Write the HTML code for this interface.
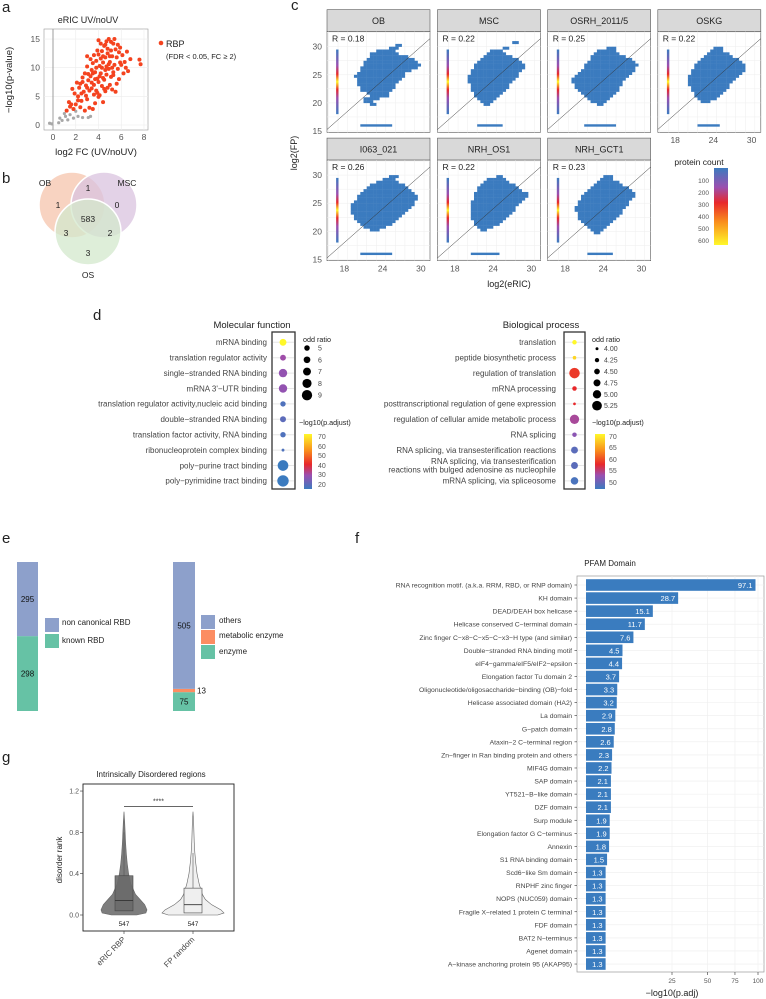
<!DOCTYPE html>
<html><head><meta charset="utf-8">
<style>
html,body{margin:0;padding:0;background:#fff;}
svg{display:block;font-family:"Liberation Sans",sans-serif;}
.t{fill:#222;}
.tk{fill:#555;}
</style></head>
<body>
<svg id="fig" width="766" height="999" viewBox="0 0 766 999" xmlns="http://www.w3.org/2000/svg">
<defs>
<linearGradient id="pc" x1="0" y1="0" x2="0" y2="1">
<stop offset="0" stop-color="#3b7bbf"/><stop offset="0.25" stop-color="#9b4fb0"/><stop offset="0.45" stop-color="#e8282b"/><stop offset="0.7" stop-color="#f98e1c"/><stop offset="1" stop-color="#fff82a"/></linearGradient>
<linearGradient id="pv" x1="0" y1="0" x2="0" y2="1">
<stop offset="0" stop-color="#fff82a"/><stop offset="0.3" stop-color="#f98e1c"/><stop offset="0.55" stop-color="#e8282b"/><stop offset="0.75" stop-color="#9b4fb0"/><stop offset="1" stop-color="#3b7bbf"/></linearGradient>
<linearGradient id="inb" x1="0" y1="0" x2="0" y2="1">
<stop offset="0" stop-color="#3b7bbf"/><stop offset="0.25" stop-color="#9b4fb0"/><stop offset="0.38" stop-color="#e8282b"/><stop offset="0.5" stop-color="#fff82a"/><stop offset="0.62" stop-color="#e8282b"/><stop offset="0.75" stop-color="#9b4fb0"/><stop offset="1" stop-color="#3b7bbf"/></linearGradient>
</defs>

<!-- panel labels -->
<text x="2" y="12" font-size="15" class="t">a</text>
<text x="2" y="183" font-size="15" class="t">b</text>
<text x="291" y="10" font-size="15" class="t">c</text>
<text x="93" y="320" font-size="15" class="t">d</text>
<text x="2" y="543" font-size="15" class="t">e</text>
<text x="355" y="543" font-size="15" class="t">f</text>
<text x="2" y="762" font-size="15" class="t">g</text>

<!-- panel a -->
<g id="pa">
<text x="88" y="23" font-size="9" text-anchor="middle" class="t">eRIC UV/noUV</text>
<rect x="44" y="29" width="104" height="101" fill="#fff" stroke="#999" stroke-width="0.6"/>
<g id="pa-grid"></g>
<g id="pa-pts"></g>
<text x="96" y="155" font-size="9.5" text-anchor="middle" class="t">log2 FC (UV/noUV)</text>
<text x="0" y="0" font-size="9.5" text-anchor="middle" class="t" transform="translate(12,80) rotate(-90)">−log10(p-value)</text>
<circle cx="161" cy="43" r="2.3" fill="#f4431f"/>
<text x="166" y="47" font-size="9" class="t">RBP</text>
<text x="166" y="59" font-size="7.5" class="t">(FDR &lt; 0.05, FC ≥ 2)</text>
</g>

<!-- panel b -->
<g>
<circle cx="72" cy="205" r="33" fill="#f7cbb6" fill-opacity="0.85" stroke="#fff" stroke-width="1.5"/>
<circle cx="104" cy="205" r="33" fill="#d9c3df" fill-opacity="0.75" stroke="#fff" stroke-width="1.5"/>
<circle cx="88" cy="232" r="33" fill="#d3e8cc" fill-opacity="0.75" stroke="#fff" stroke-width="1.5"/>
<g font-size="8.5" class="t" text-anchor="middle">
<text x="45" y="186">OB</text>
<text x="127" y="186">MSC</text>
<text x="88" y="278">OS</text>
<text x="58" y="208">1</text>
<text x="88" y="191">1</text>
<text x="117" y="208">0</text>
<text x="88" y="222">583</text>
<text x="66" y="236">3</text>
<text x="110" y="236">2</text>
<text x="88" y="256">3</text>
</g></g>

<!-- panel c -->
<g id="pc-g"></g>
<text x="0" y="0" font-size="9" text-anchor="middle" class="t" transform="translate(297,153) rotate(-90)">log2(FP)</text>
<text x="509" y="287" font-size="9" text-anchor="middle" class="t">log2(eRIC)</text>
<text x="699" y="165" font-size="8.5" text-anchor="middle" class="t">protein count</text>
<rect x="714" y="168" width="14" height="77" fill="url(#pc)"/>
<g font-size="6.5" class="tk" text-anchor="end">
<text x="709" y="183">100</text><text x="709" y="195">200</text><text x="709" y="207">300</text><text x="709" y="219">400</text><text x="709" y="231">500</text><text x="709" y="243">600</text></g>

<!-- panel d -->
<g id="pd">
<text x="252" y="328" font-size="9.5" text-anchor="middle" class="t">Molecular function</text>
<text x="541" y="328" font-size="9.5" text-anchor="middle" class="t">Biological process</text>
<rect x="272" y="332" width="23" height="157" fill="none" stroke="#333" stroke-width="1.3"/>
<rect x="564" y="332" width="21" height="157" fill="none" stroke="#333" stroke-width="1.3"/>
<text x="303" y="342" font-size="7.2" class="t">odd ratio</text>
<text x="592" y="342" font-size="7.2" class="t">odd ratio</text>
<text x="299" y="425" font-size="7.2" class="t">−log10(p.adjust)</text>
<text x="592" y="425" font-size="7.2" class="t">−log10(p.adjust)</text>
<rect x="304" y="434" width="8" height="55" fill="url(#pv)"/>
<rect x="595" y="434" width="10" height="55" fill="url(#pv)"/>
<g font-size="7" class="tk">
<text x="318" y="439">70</text><text x="318" y="449">60</text><text x="318" y="458">50</text><text x="318" y="468">40</text><text x="318" y="477">30</text><text x="318" y="487">20</text></g>
<g font-size="7" class="tk">
<text x="609" y="439">70</text><text x="609" y="450">65</text><text x="609" y="462">60</text><text x="609" y="473">55</text><text x="609" y="485">50</text></g>
</g>

<!-- panel e -->
<g id="pe">
<rect x="45" y="618" width="14" height="14" fill="#8da0cb"/>
<rect x="45" y="634" width="14" height="14" fill="#66c2a5"/>
<text x="62" y="625" font-size="8" class="t">non canonical RBD</text>
<text x="62" y="643" font-size="8" class="t">known RBD</text>
<rect x="201" y="615" width="14" height="14" fill="#8da0cb"/>
<rect x="201" y="630" width="14" height="14" fill="#fc8d62"/>
<rect x="201" y="645" width="14" height="14" fill="#66c2a5"/>
<text x="219" y="623" font-size="8" class="t">others</text>
<text x="219" y="638" font-size="8" class="t">metabolic enzyme</text>
<text x="219" y="654" font-size="8" class="t">enzyme</text>
</g>

<!-- panel f -->
<g id="pf">
<text x="610" y="566" font-size="8" text-anchor="middle" class="t">PFAM Domain</text>
<rect x="577" y="576" width="187" height="396" fill="#fff" stroke="#999" stroke-width="0.7"/>
<text x="672" y="996" font-size="9" text-anchor="middle" class="t">−log10(p.adj)</text>
</g>

<!-- panel g -->
<g id="pg">
<text x="151" y="777" font-size="8" text-anchor="middle" class="t">Intrinsically Disordered regions</text>
<rect x="83" y="784" width="151" height="147" fill="#fff" stroke="#222" stroke-width="0.9"/>
<text x="0" y="0" font-size="8" text-anchor="middle" class="t" transform="translate(62,860) rotate(-90)">disorder rank</text>
</g>

<script>
var NS='http://www.w3.org/2000/svg';
function mk(parent,tag,attrs,txt){var e=document.createElementNS(NS,tag);for(var k in attrs)e.setAttribute(k,attrs[k]);if(txt!==undefined)e.textContent=txt;parent.appendChild(e);return e;}
var fig=document.getElementById('fig');

// ---------- panel a data ----------
var volcanoGray=[[-0.3,0.3],[-0.1,0.2],[0.5,0.4],[0.8,0.8],[0.6,1.2],[1.1,1.5],[1.3,0.9],[1.5,1.8],[1.8,1.2],[2.2,1.5],[2.6,1.3],[3.1,1.3],[3.3,1.5],[2.0,2.4],[1.0,2.0]];
var volcanoRed=[[1.2,2.5],[1.5,3.2],[1.8,2.8],[1.4,4.0],[2.0,3.6],[2.2,5.0],[1.9,5.5],[2.5,4.2],[2.3,6.5],[2.7,5.8],[2.4,7.2],[2.9,6.9],[3.0,4.5],[3.2,3.0],[2.8,2.5],[3.5,2.8],[3.6,5.3],[3.1,7.8],[3.3,8.5],[2.8,9.0],[3.0,10.2],[3.4,9.6],[3.6,7.0],[3.8,6.0],[3.9,8.1],[3.7,9.2],[3.5,10.8],[3.3,11.5],[3.8,11.2],[4.0,12.3],[3.9,13.0],[4.1,10.3],[4.2,9.0],[4.0,7.5],[4.3,6.8],[4.1,5.2],[4.4,4.0],[4.6,5.9],[4.5,7.9],[4.7,8.8],[4.4,10.9],[4.6,11.8],[4.3,12.9],[4.5,13.8],[4.7,14.6],[4.9,15.0],[4.8,12.5],[5.0,11.0],[4.9,9.8],[5.1,8.4],[5.0,7.0],[5.2,6.2],[5.3,9.2],[5.4,10.5],[5.2,12.0],[5.5,13.2],[5.3,14.2],[5.6,11.8],[5.7,9.8],[5.8,8.0],[5.6,7.2],[6.0,10.5],[6.1,12.2],[5.9,13.5],[6.2,9.0],[6.3,11.0],[6.5,12.8],[6.8,11.5],[7.6,11.4],[7.7,10.6],[5.4,15.0],[5.1,14.5],[4.2,14.2],[3.6,12.2],[3.1,8.9],[2.6,8.3],[2.1,7.4],[1.7,6.3],[2.4,3.1],[3.7,3.8],[4.8,6.5],[5.5,5.8],[4.0,4.9],[3.4,6.4],[2.9,5.1],[4.6,9.6],[4.2,11.6],[3.8,10.0],[4.9,10.6],[5.3,8.7],[5.8,12.7],[6.4,10.0],[4.4,8.2],[3.2,6.0],[2.6,7.5],[3.9,5.6],[4.8,13.3],[5.0,12.0],[4.1,8.5],[3.5,9.0],[2.2,4.3],[1.6,3.6],[4.3,10.0],[4.7,10.2],[5.2,10.0],[3.0,6.5],[3.7,8.0],[4.5,6.3],[5.9,10.9],[6.6,9.4],[4.4,12.0],[3.4,7.4],[2.5,5.5],[5.1,13.0],[4.0,14.8],[4.6,14.0],[5.7,14.0],[3.0,12.0]];
var volcanoXTicks=[0,2,4,6,8];
var volcanoYTicks=[0,5,10,15];
function vx(v){return 53+v*11.375;}
function vy(v){return 125-v*5.73;}
(function(){
 var g=document.getElementById('pa-grid');
 volcanoXTicks.forEach(function(t){
  var l=mk(g,'line',{x1:vx(t),x2:vx(t),y1:29,y2:130,stroke:'#ececec','stroke-width':0.6});
  
  var tx=mk(g,'text',{x:vx(t),y:140,'font-size':8.5,'text-anchor':'middle',fill:'#555'},t);
  
 });
 volcanoYTicks.forEach(function(t){
  var l=mk(g,'line',{x1:44,x2:148,y1:vy(t),y2:vy(t),stroke:'#ececec','stroke-width':0.6});
  
  var tx=mk(g,'text',{x:40,y:vy(t)+3,'font-size':8.5,'text-anchor':'end',fill:'#555'},t);
  
 });
 var z=mk(g,'line',{x1:vx(0),x2:vx(0),y1:29,y2:130,stroke:'#888','stroke-width':0.8});
 
 var p=document.getElementById('pa-pts');
 volcanoGray.forEach(function(d){var c=mk(p,'circle',{cx:vx(d[0]),cy:vy(d[1]),r:1.6,fill:'#a8a8a8'});
  });
 volcanoRed.forEach(function(d){var c=mk(p,'circle',{cx:vx(d[0]),cy:vy(d[1]),r:2,fill:'#f4431f'});
  });
})();

// ---------- panel c data ----------
var facetNames=['OB','MSC','OSRH_2011/5','OSKG','I063_021','NRH_OS1','NRH_GCT1'];
var facetR=['0.18','0.22','0.25','0.22','0.26','0.22','0.23'];
var facetXTicks=[18,24,30];
var facetYTicks=[15,20,25,30];
var spansOB=[[19.5,22,22.5],[20,21,22],[20.5,21,23],[21,22,24.5],[21.5,21.5,24.5],[22,20.5,25],[22.5,20.5,25.5],[23,20,25.5],[23.5,20,26],[24,20,26.5],[24.5,19.5,27],[25,20,27],[25.5,20.5,28],[26,20.5,29],[26.5,21,29.5],[27,21,29],[27.5,21.5,28.5],[28,22,27.5],[28.5,22,26],[29,23,25.5],[29.5,25,26],[30,26,26.5]];
var spansMSC=[[19.5,22.5,23],[20,22,23.5],[20.5,21.5,24],[21,21,24.5],[21.5,21,25],[22,20.5,25.5],[22.5,20.5,26],[23,20.5,26],[23.5,20,26.5],[24,20,27],[24.5,20,27.5],[25,20.5,27.5],[25.5,20.5,28],[26,21,28.5],[26.5,21,28.5],[27,21.5,28],[27.5,22,27.5],[28,22.5,26.5],[28.5,23,25.5],[29,23.5,25],[29.5,25.5,26],[30.5,27,27.5]];
var spansOSRH=[[19.5,23,23.5],[20,22,24],[20.5,21.5,24.5],[21,21,25],[21.5,20.5,25.5],[22,20,26],[22.5,19.5,26],[23,19.5,26.5],[23.5,19,26.5],[24,19,27],[24.5,19.5,27.5],[25,20,28],[25.5,20.5,28.5],[26,21,28.5],[26.5,21,29],[27,21.5,28.5],[27.5,22,28],[28,22,27],[28.5,22.5,26],[29,23,25.5],[29.5,24.5,25.5]];
var spansOSKG=[[20,22,23],[20.5,21.5,24],[21,21,24.5],[21.5,21,25],[22,20.5,25.5],[22.5,20.5,26],[23,20,26],[23.5,20,26.5],[24,20,27],[24.5,20,27.5],[25,20.5,28],[25.5,20.5,28.5],[26,21,28.5],[26.5,21,28.5],[27,21.5,28],[27.5,22,27.5],[28,22.5,26.5],[28.5,23,26],[29,23.5,25],[29.5,24,25]];
var spansI063=[[20,22,23],[20.5,21,24],[21,20.5,25],[21.5,20,25.5],[22,19.5,26],[22.5,19.5,26.5],[23,19,27],[23.5,19,27.5],[24,19,28],[24.5,19,28.5],[25,19.5,28.5],[25.5,20,29],[26,20,29],[26.5,20.5,28.5],[27,21,28],[27.5,21.5,27.5],[28,22,27],[28.5,23,26],[29,24,25.5],[29.5,25,26]];
var spansNRHOS=[[20,22,22.5],[20.5,21.5,23.5],[21,21,24.5],[21.5,21,25],[22,20.5,25.5],[22.5,20.5,26],[23,20.5,26.5],[23.5,20.5,27],[24,20.5,27],[24.5,20.5,27.5],[25,20.5,28],[25.5,21,28.5],[26,21,29],[26.5,21,29],[27,21.5,28],[27.5,21.5,27.5],[28,22,27],[28.5,22.5,26],[29,23,25.5],[29.5,24.5,25]];
var spansNRHGCT=[[19.5,22.5,23],[20,22,23.5],[20.5,21.5,24],[21,21,24.5],[21.5,20.5,25],[22,20,25.5],[22.5,20,26],[23,20,26.5],[23.5,19.5,26.5],[24,19.5,27],[24.5,20,27.5],[25,20,27.5],[25.5,20.5,28],[26,20.5,28.5],[26.5,21,28.5],[27,21.5,28],[27.5,22,27.5],[28,22.5,26.5],[28.5,23,26],[29,23.5,25],[29.5,24,25]];
var facetSpans=[spansOB,spansMSC,spansOSRH,spansOSKG,spansI063,spansNRHOS,spansNRHGCT];
var facetBottomBar=[[20.5,25.5],[21.5,25.5],[21,26],[21.5,25],[20.5,25.5],[20.5,25],[21.5,25.5]];
(function(){
 var root=document.getElementById('pc-g');
 var lefts=[327,437.5,547.7,657.8], bottoms=[132.3,260.7];
 var W=103, xk=6.37, yk=5.62, xmin=15.27, top=15+ (131-31.7)/5.62;
 facetNames.forEach(function(name,i){
  var col=i%4,row=Math.floor(i/4);
  var L=lefts[col],B=bottoms[row]-1.3, T=B-(top-15)*yk;
  function fx(v){return L+(v-xmin)*xk;}
  function fy(v){return B-(v-15)*yk;}
  var g=mk(root,'g',{});
  
  
  var s=mk(g,'rect',{x:L,y:T-22,width:W,height:22,fill:'#d9d9d9',stroke:'#555','stroke-width':0.6});
  
  var st=mk(g,'text',{x:L+W/2,y:T-7.5,'font-size':9,'text-anchor':'middle',fill:'#222'},name);
  
  var bg=mk(g,'rect',{x:L,y:T,width:W,height:B-T+1.3,fill:'#fff',stroke:'#555','stroke-width':0.6});
  
  for(var gx=15.5;gx<=31;gx+=1.5){var gl=mk(g,'line',{x1:fx(gx),x2:fx(gx),y1:T,y2:B+1.3,stroke:'#eee','stroke-width':0.5});
   }
  for(var gy=15;gy<=32.5;gy+=2.5){var gl2=mk(g,'line',{x1:L,x2:L+W,y1:fy(gy),y2:fy(gy),stroke:'#eee','stroke-width':0.5});
   }
  facetSpans[i].forEach(function(r){
   for(var x=r[1];x<=r[2]+1e-6;x+=0.5){
    var c=mk(g,'rect',{x:fx(x),y:fy(r[0]+0.5),width:0.5*xk+0.2,height:0.5*yk+0.2,fill:'#3b7bbf'});
    
   }
  });
  var bb=facetBottomBar[i];
  var hb=mk(g,'rect',{x:fx(bb[0]),y:fy(16.2),width:(bb[1]-bb[0])*xk,height:2.4,fill:'#3b7bbf'});
  
  var vb=mk(g,'rect',{x:fx(16.7),y:fy(29.5),width:2.4,height:11.5*yk,fill:'url(#inb)'});
  
  var dl=mk(g,'line',{x1:fx(15.27),y1:fy(15.27),x2:L+W,y2:fy(15.27+W/xk*1),stroke:'#333','stroke-width':0.5});
  
  var rt=mk(g,'text',{x:L+5,y:T+10,'font-size':8.5,fill:'#222'},'R  = '+facetR[i]);
  
  if(col==0){facetYTicks.forEach(function(t){var tt=mk(g,'text',{x:L-5,y:fy(t)+3,'font-size':8.5,'text-anchor':'end',fill:'#555'},t);
   });}
  if(row==1||col==3){facetXTicks.forEach(function(t){var tt=mk(g,'text',{x:fx(t),y:B+12,'font-size':8.5,'text-anchor':'middle',fill:'#555'},t);
   });}
 });
})();

// ---------- panel d data ----------
var mfTerms=['mRNA binding','translation regulator activity','single−stranded RNA binding',"mRNA 3'−UTR binding",'translation regulator activity,nucleic acid binding','double−stranded RNA binding','translation factor activity, RNA binding','ribonucleoprotein complex binding','poly−purine tract binding','poly−pyrimidine tract binding'];
var mfOdds=[6,5.3,7,7,5,5.4,5,3.3,8.5,9];
var mfPadj=[72,30,28,28,18,20,18,18,15,15];
var bpTerms=['translation','peptide biosynthetic process','regulation of translation','mRNA processing','posttranscriptional regulation of gene expression','regulation of cellular amide metabolic process','RNA splicing','RNA splicing, via transesterification reactions','RNA splicing, via transesterification|reactions with bulged adenosine as nucleophile','mRNA splicing, via spliceosome'];
var bpOdds=[4.2,4.05,5.2,4.2,3.9,5.0,4.2,4.6,4.6,4.7];
var bpPadj=[71,69,60,59,59,54,52,49,49,48];
var mfSizeTicks=[5,6,7,8,9];
var bpSizeTicks=[4.00,4.25,4.50,4.75,5.00,5.25];
function lerp(a,b,t){return Math.round(a+(b-a)*t);}
function colorScale(t){var stops=[[59,123,191],[155,79,176],[232,40,43],[249,142,28],[255,248,42]];
 t=Math.max(0,Math.min(1,t));var s=t*4,i=Math.min(3,Math.floor(s)),f=s-i;var a=stops[i],b=stops[i+1];
 return 'rgb('+lerp(a[0],b[0],f)+','+lerp(a[1],b[1],f)+','+lerp(a[2],b[2],f)+')';}
(function(){
 var root=document.getElementById('pd');
 var y0=342.3,step=15.4;
 function mfR(o){return 1.2+(o-3)*0.75;}
 function bpR(o){return 1.2+(o-3.85)*3.0;}
 mfTerms.forEach(function(t,i){var y=y0+i*step;
  var tx=mk(root,'text',{x:267,y:y+2.8,'font-size':8,'text-anchor':'end',fill:'#444'},t);
  
  var gl=mk(root,'line',{x1:273,x2:294,y1:y,y2:y,stroke:'#e6e6e6','stroke-width':1});
  
  var c=mk(root,'circle',{cx:283,cy:y,r:mfR(mfOdds[i]),fill:colorScale((mfPadj[i]-15)/57)});
  
 });
 bpTerms.forEach(function(t,i){var y=y0+i*step;
  var parts=t.split('|');
  if(parts.length==1){var tx=mk(root,'text',{x:556,y:y+2.8,'font-size':8,'text-anchor':'end',fill:'#444'},t);
   }
  else{var a=mk(root,'text',{x:556,y:y-1.5,'font-size':8,'text-anchor':'end',fill:'#444'},parts[0]);
   
   var b=mk(root,'text',{x:556,y:y+7,'font-size':8,'text-anchor':'end',fill:'#444'},parts[1]);
   }
  var gl=mk(root,'line',{x1:565,x2:584,y1:y,y2:y,stroke:'#e6e6e6','stroke-width':1});
  
  var c=mk(root,'circle',{cx:574.5,cy:y,r:bpR(bpOdds[i]),fill:colorScale((bpPadj[i]-47)/24)});
  
 });
 mfSizeTicks.forEach(function(v,i){var y=348+i*11.8;
  var c=mk(root,'circle',{cx:307,cy:y,r:mfR(v)*0.8+0.6,fill:'#000'});
  
  var t=mk(root,'text',{x:318,y:y+2.5,'font-size':7,fill:'#444'},v);
  });
 bpSizeTicks.forEach(function(v,i){var y=348.7+i*11.4;
  var c=mk(root,'circle',{cx:597,cy:y,r:bpR(v)*0.9,fill:'#000'});
  
  var t=mk(root,'text',{x:604,y:y+2.5,'font-size':7,fill:'#444'},v.toFixed(2));
  });
})();

// ---------- panel e data ----------
var rbdCategories=['known RBD','non canonical RBD'];
var rbdCounts=[298,295];
var rbdColors=['#66c2a5','#8da0cb'];
var enzCategories=['enzyme','metabolic enzyme','others'];
var enzCounts=[75,13,505];
var enzColors=['#66c2a5','#fc8d62','#8da0cb'];
(function(){
 var root=document.getElementById('pe');
 var yb=711, H=149;
 function stack(x,w,counts,colors,cats,labels){
  var tot=counts.reduce(function(a,b){return a+b;},0),y=yb;
  counts.forEach(function(c,i){var h=c/tot*H;
   var r=mk(root,'rect',{x:x,y:y-h,width:w,height:h,fill:colors[i]});
   
   var lp=labels[i];
   var t=mk(root,'text',{x:lp?x+w+2:x+w/2,y:y-h/2+3,'font-size':8,'text-anchor':lp?'start':'middle',fill:'#111'},c);
   
   y-=h;});
 }
 stack(17,21,rbdCounts,rbdColors,rbdCategories,[false,false]);
 stack(173,22,enzCounts,enzColors,enzCategories,[false,true,false]);
})();

// ---------- panel f data ----------
var pfamDomains=['RNA recognition motif. (a.k.a. RRM, RBD, or RNP domain)','KH domain','DEAD/DEAH box helicase','Helicase conserved C−terminal domain','Zinc finger C−x8−C−x5−C−x3−H type (and similar)','Double−stranded RNA binding motif','eIF4−gamma/eIF5/eIF2−epsilon','Elongation factor Tu domain 2','Oligonucleotide/oligosaccharide−binding (OB)−fold','Helicase associated domain (HA2)','La domain','G−patch domain','Ataxin−2 C−terminal region','Zn−finger in Ran binding protein and others','MIF4G domain','SAP domain','YT521−B−like domain','DZF domain','Surp module','Elongation factor G C−terminus','Annexin','S1 RNA binding domain','Scd6−like Sm domain','RNPHF zinc finger','NOPS (NUC059) domain','Fragile X−related 1 protein C terminal','FDF domain','BAT2 N−terminus','Agenet domain','A−kinase anchoring protein 95 (AKAP95)'];
var pfamValues=[97.1,28.7,15.1,11.7,7.6,4.5,4.4,3.7,3.3,3.2,2.9,2.8,2.6,2.3,2.2,2.1,2.1,2.1,1.9,1.9,1.8,1.5,1.3,1.3,1.3,1.3,1.3,1.3,1.3,1.3];
var pfamTicks=[25,50,75,100];
function fxs(v){return 586+Math.sqrt(v)*17.2;}
(function(){
 var root=document.getElementById('pf');
 pfamTicks.forEach(function(t){
  var l=mk(root,'line',{x1:fxs(t),x2:fxs(t),y1:576,y2:972,stroke:'#eee','stroke-width':0.6});
  
  var tk=mk(root,'line',{x1:fxs(t),x2:fxs(t),y1:972,y2:975,stroke:'#333','stroke-width':0.6});
  
  var tx=mk(root,'text',{x:fxs(t),y:983,'font-size':6.5,'text-anchor':'middle',fill:'#555'},t);
  });
 var y0=585,step=13.07;
 pfamDomains.forEach(function(d,i){var y=y0+i*step,v=pfamValues[i];
  var gl=mk(root,'line',{x1:577,x2:764,y1:y,y2:y,stroke:'#eee','stroke-width':0.6});
  
  var b=mk(root,'rect',{x:586,y:y-5.8,width:fxs(v)-586,height:11.6,fill:'#3a7cbf'});
  
  var tx=mk(root,'text',{x:572,y:y+2.5,'font-size':6.8,'text-anchor':'end',fill:'#444'},d);
  
  var tk=mk(root,'line',{x1:574.5,x2:577,y1:y,y2:y,stroke:'#333','stroke-width':0.6});
  
  var vl=mk(root,'text',{x:fxs(v)-3,y:y+3,'font-size':7.5,'text-anchor':'end',fill:'#fff'},v.toFixed(1));
  
 });
})();

// ---------- panel g data ----------
var violinGroups=['eRIC RBP','FP random'];
var violinDensityY=[0,0.02,0.05,0.1,0.15,0.2,0.3,0.4,0.5,0.6,0.7,0.8,0.9,1.0];
var violinDensityRBP=[0.55,0.95,1,0.9,0.7,0.5,0.3,0.2,0.14,0.1,0.07,0.05,0.03,0];
var violinDensityFP=[0.8,1,0.9,0.6,0.4,0.3,0.2,0.13,0.09,0.06,0.04,0.03,0.02,0];
var boxQ1=[0.04,0.02], boxMedian=[0.14,0.10], boxQ3=[0.38,0.26], boxWhiskerHi=[0.8,0.6];
var groupN=[547,547];
var violinYTicks=[0.0,0.4,0.8,1.2];
function gy(v){return 915-v*103.3;}
(function(){
 var root=document.getElementById('pg');
 var cx=[124,193], maxW=[23,31], fills=['#7d7d7d','#f0f0f0'], dens=[violinDensityRBP,violinDensityFP];
 violinYTicks.forEach(function(t){
  var tx=mk(root,'text',{x:79,y:gy(t)+2.5,'font-size':7,'text-anchor':'end',fill:'#555'},t.toFixed(1));
  
  var tk=mk(root,'line',{x1:80,x2:83,y1:gy(t),y2:gy(t),stroke:'#333','stroke-width':0.6});
  });
 violinGroups.forEach(function(gname,i){
  var pts=[];
  violinDensityY.forEach(function(yv,j){pts.push((cx[i]+dens[i][j]*maxW[i])+','+gy(yv));});
  for(var j=violinDensityY.length-1;j>=0;j--){pts.push((cx[i]-dens[i][j]*maxW[i])+','+gy(violinDensityY[j]));}
  var v=mk(root,'polygon',{points:pts.join(' '),fill:fills[i],stroke:'#666','stroke-width':0.6});
  
  var w=mk(root,'line',{x1:cx[i],x2:cx[i],y1:gy(boxQ3[i]),y2:gy(boxWhiskerHi[i]),stroke:'#555','stroke-width':0.6});
  
  var b=mk(root,'rect',{x:cx[i]-9,y:gy(boxQ3[i]),width:18,height:gy(boxQ1[i])-gy(boxQ3[i]),fill:i?'#eeeeee':'#6a6a6a','fill-opacity':0.9,stroke:'#444','stroke-width':0.6});
  
  var m=mk(root,'line',{x1:cx[i]-9,x2:cx[i]+9,y1:gy(boxMedian[i]),y2:gy(boxMedian[i]),stroke:'#333','stroke-width':0.8});
  
  var n=mk(root,'text',{x:cx[i],y:926,'font-size':6.5,'text-anchor':'middle',fill:'#222'},groupN[i]);
  
  var tk=mk(root,'line',{x1:cx[i],x2:cx[i],y1:931,y2:934,stroke:'#333','stroke-width':0.6});
  
  var xl=mk(root,'text',{x:0,y:0,'font-size':8,'text-anchor':'end',fill:'#444',transform:'translate('+(cx[i]+2)+',940) rotate(-45)'},gname);
  
 });
 var s=mk(root,'line',{x1:cx[0],x2:cx[1],y1:gy(1.05),y2:gy(1.05),stroke:'#333','stroke-width':0.7});
 
 var st=mk(root,'text',{x:(cx[0]+cx[1])/2,y:gy(1.05)-3,'font-size':7,'text-anchor':'middle',fill:'#333'},'****');
 
})();
</script>
</svg>
</body></html>
